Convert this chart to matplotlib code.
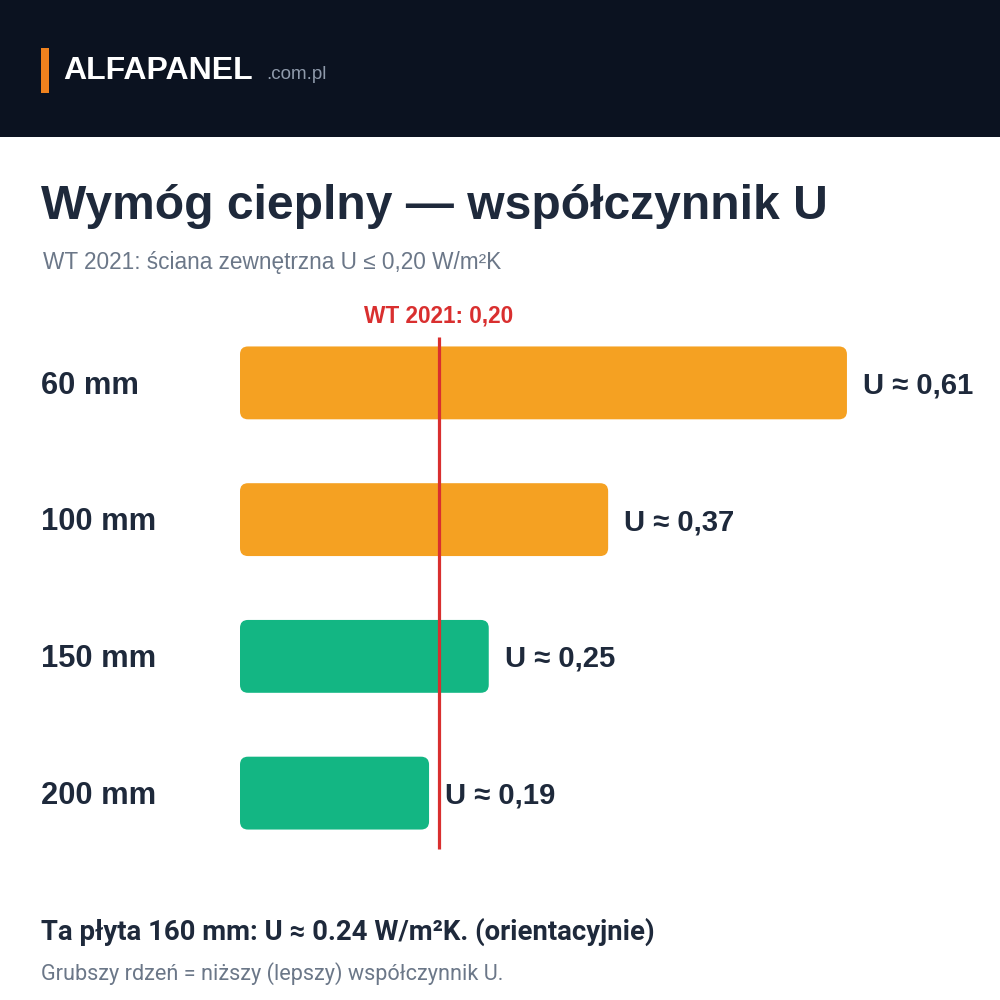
import matplotlib
matplotlib.use("Agg")
import matplotlib.pyplot as plt
from matplotlib.patches import Rectangle, FancyBboxPatch

# dane
labels = ["60 mm", "100 mm", "150 mm", "200 mm"]
u_values = [0.61, 0.37, 0.25, 0.19]
u_text = ["0,61", "0,37", "0,25", "0,19"]
u_limit = 0.20
limit_text = "0,20"

ORANGE = "#f5a122"
GREEN = "#13b683"
RED = "#d92f2f"
DARK = "#1e293b"
GRAY = "#6b7788"
FONT = ["Liberation Sans", "DejaVu Sans"]
FONT2 = ["Roboto", "DejaVu Sans"]

fig = plt.figure(figsize=(10, 10), dpi=100)
fig.patch.set_facecolor("white")

# tło w pikselach
bg = fig.add_axes([0, 0, 1, 1])
bg.set_xlim(0, 1000)
bg.set_ylim(1000, 0)
bg.axis("off")
bg.add_patch(Rectangle((0, 0), 1000, 137, color="#0b1220", lw=0))
bg.add_patch(Rectangle((41, 48), 8, 45, color="#f0821e", lw=0))
bg.text(63, 79, "ALFAPANEL", color="white", fontsize=23, fontweight="bold",
        family=FONT, va="baseline")
bg.text(266, 79, ".com.pl", color="#8f9aab", fontsize=13.5, family=FONT, va="baseline")

bg.text(41, 219, "Wymóg cieplny — współczynnik U", color=DARK, fontsize=34.6,
        fontweight="bold", family=FONT, va="baseline")
bg.text(43, 269, "WT 2021: ściana zewnętrzna U ≤ 0,20 W/m²K", color=GRAY,
        fontsize=16.25, family=FONT, va="baseline")

bg.text(41, 940, "Ta płyta 160 mm: U ≈ 0.24 W/m²K. (orientacyjnie)", color=DARK,
        fontsize=19.8, fontweight="bold", family=FONT2, va="baseline")
bg.text(41, 980, "Grubszy rdzeń = niższy (lepszy) współczynnik U.", color=GRAY,
        fontsize=15.6, family=FONT2, va="baseline")

# wykres słupkowy
ax = fig.add_axes([0.24, 0.134, 0.76, 0.556])
ax.set_facecolor("none")
ax.set_xlim(0, 0.76 * 1000 / 995)
ax.set_ylim(3.533, -0.533)
ax.axis("off")

h = 73 / 137
r = 8 / 995
asp = (8 / 137) / r
for i, (lab, v, t) in enumerate(zip(labels, u_values, u_text)):
    col = GREEN if v <= 0.25 else ORANGE
    ax.add_patch(FancyBboxPatch((0, i - h / 2), v, h,
                                boxstyle=f"round,pad=0,rounding_size={r}",
                                mutation_aspect=asp, fc=col, ec="none"))
    ax.annotate(f"U ≈ {t}", (v, i), xytext=(11.5, -7.6), textcoords="offset points",
                ha="left", va="baseline", fontsize=21.1, fontweight="bold",
                color=DARK, family=FONT)
    ax.annotate(lab, (0, i), xytext=(-143, -7.8), textcoords="offset points",
                ha="left", va="baseline", fontsize=22.2, fontweight="bold",
                color=DARK, family=FONT, annotation_clip=False)

ax.plot([u_limit, u_limit], [-0.336, 3.409], color=RED, lw=2.3, solid_capstyle="butt",
        clip_on=False)
ax.text(u_limit, -0.445, f"WT 2021: {limit_text}", ha="center", va="baseline",
        fontsize=16.3, fontweight="bold", color=RED, family=FONT)

fig.savefig("out.png", dpi=100)
